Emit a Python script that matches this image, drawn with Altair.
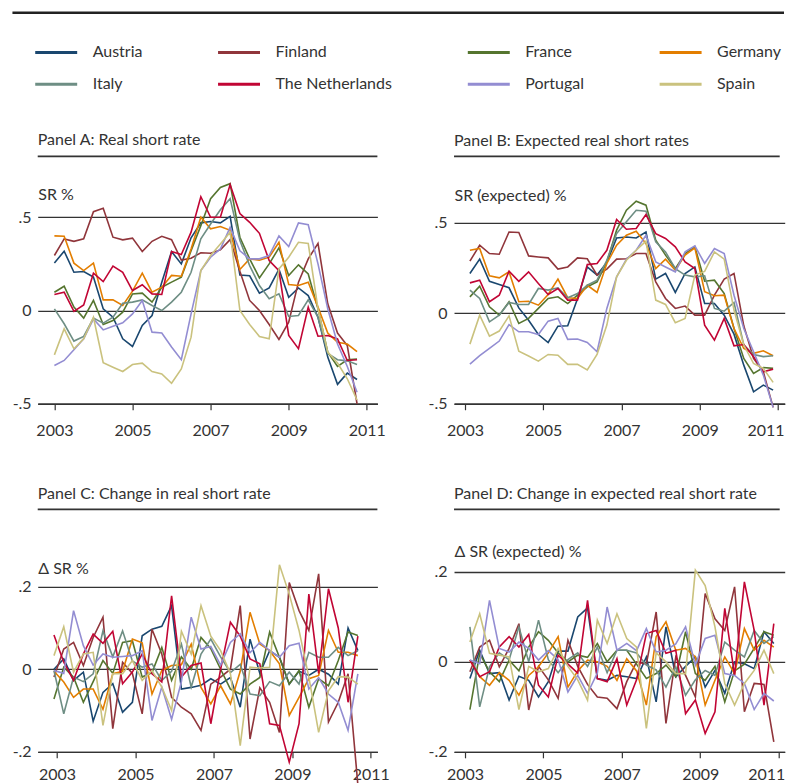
import altair as alt
import pandas as pd

COUNTRIES = ["Austria", "Finland", "France", "Germany", "Italy",
             "The Netherlands", "Portugal", "Spain"]
COLORS = ["#1a476f", "#90353b", "#55752f", "#e37e00", "#6e8e84",
          "#c10534", "#938dd2", "#cac27e"]
X_TICKS = [2003, 2005, 2007, 2009, 2011]

# ---- Panel A: real short rate (quarterly, first obs 2003.0) ----
A_START = 2003.0
A_AUSTRIA = [0.255, 0.318, 0.205, 0.209, 0.179, 0.009, -0.036, -0.152, -0.193, -0.080, -0.027, 0.152, 0.316, 0.25, 0.39, 0.47,
             0.477, 0.47, 0.505, 0.19, 0.186, 0.093, 0.121, 0.221, 0.071, 0.121, 0.08, -0.036, -0.25, -0.396, -0.336, -0.37]
A_FINLAND = [0.295, 0.384, 0.371, 0.384, 0.53, 0.548, 0.393, 0.379, 0.388, 0.316, 0.371, 0.398, 0.38, 0.27, 0.28, 0.31,
             0.307, 0.325, 0.38, 0.21, 0.054, 0.0, -0.075, -0.155, -0.063, 0.152, 0.277, 0.36, 0.036, -0.121, -0.188, -0.5]
A_FRANCE = [0.098, 0.13, 0.018, -0.041, 0.054, -0.075, -0.054, -0.009, 0.089, 0.093, 0.045, 0.125, 0.152, 0.179, 0.32, 0.455,
            0.6, 0.66, 0.68, 0.393, 0.277, 0.175, 0.25, 0.336, 0.188, 0.245, 0.196, 0.009, -0.223, -0.30, -0.264, -0.26]
A_GERMANY = [0.40, 0.398, 0.254, 0.214, 0.254, 0.057, 0.057, 0.027, 0.104, 0.20, 0.098, 0.125, 0.188, 0.184, 0.33, 0.5,
             0.438, 0.45, 0.43, 0.22, 0.277, 0.27, 0.286, 0.366, 0.139, 0.134, 0.152, 0.018, -0.121, -0.17, -0.18, -0.22]
A_ITALY = [0.009, -0.071, -0.164, -0.139, -0.041, -0.068, -0.036, 0.039, 0.045, 0.057, 0.027, 0.0, 0.045, 0.098, 0.205, 0.384,
           0.464, 0.54, 0.60, 0.375, 0.241, 0.134, 0.063, 0.089, -0.032, -0.027, 0.057, -0.036, -0.23, -0.264, -0.27, -0.29]
A_NETHERLANDS = [0.086, 0.098, -0.005, 0.03, 0.2, 0.155, 0.238, 0.205, 0.107, 0.138, 0.089, 0.086, 0.316, 0.30, 0.42, 0.61,
                 0.5, 0.5, 0.675, 0.52, 0.473, 0.414, 0.268, 0.214, -0.134, -0.205, 0.018, -0.138, -0.134, -0.152, -0.268, -0.264]
A_PORTUGAL = [-0.295, -0.268, -0.21, -0.152, -0.045, -0.104, -0.084, -0.066, -0.018, 0.054, -0.116, -0.121, -0.196, -0.264, -0.018, 0.214,
              0.286, 0.33, 0.446, 0.32, 0.277, 0.277, 0.295, 0.40, 0.343, 0.47, 0.46, 0.25, 0.009, -0.18, -0.30, -0.438]
A_SPAIN = [-0.238, -0.098, -0.205, -0.152, -0.036, -0.28, -0.304, -0.327, -0.29, -0.282, -0.327, -0.34, -0.39, -0.313, -0.143, 0.214,
           0.295, 0.357, 0.42, 0.0, -0.075, -0.139, -0.152, 0.223, 0.286, 0.366, 0.36, 0.009, -0.223, -0.282, -0.366, -0.48]

# ---- Panel B: expected real short rates (first obs 2003.125) ----
B_START = 2003.125
B_AUSTRIA = [0.219, 0.298, 0.176, 0.158, 0.14, 0.029, -0.039, -0.118, -0.162, -0.072, -0.07, 0.08, 0.255, 0.21, 0.28, 0.415,
             0.42, 0.415, 0.448, 0.188, 0.219, 0.114, 0.219, 0.255, 0.053, 0.053, -0.011, -0.116, -0.287, -0.434, -0.397, -0.425]
B_FINLAND = [0.287, 0.375, 0.329, 0.325, 0.448, 0.445, 0.316, 0.31, 0.305, 0.243, 0.255, 0.305, 0.30, 0.21, 0.243, 0.298,
             0.30, 0.329, 0.329, 0.173, 0.081, 0.026, 0.039, -0.011, -0.011, 0.099, 0.188, 0.219, -0.07, -0.25, -0.324, -0.52]
B_FRANCE = [0.09, 0.149, 0.035, -0.011, 0.063, -0.057, -0.029, 0.026, 0.081, 0.09, 0.053, 0.099, 0.145, 0.173, 0.283, 0.458,
            0.568, 0.618, 0.596, 0.403, 0.32, 0.246, 0.329, 0.366, 0.176, 0.182, 0.108, -0.085, -0.25, -0.333, -0.30, -0.305]
B_GERMANY = [0.347, 0.357, 0.206, 0.195, 0.228, 0.063, 0.066, 0.044, 0.103, 0.188, 0.085, 0.081, 0.154, 0.114, 0.274, 0.375,
             0.43, 0.452, 0.384, 0.246, 0.298, 0.237, 0.32, 0.36, 0.118, 0.096, 0.099, -0.085, -0.195, -0.222, -0.208, -0.235]
B_ITALY = [0.127, 0.081, -0.048, -0.011, 0.059, 0.048, 0.048, 0.136, 0.127, 0.14, 0.085, 0.108, 0.154, 0.182, 0.292, 0.439,
           0.504, 0.568, 0.563, 0.393, 0.338, 0.246, 0.21, 0.20, 0.206, 0.026, 0.011, 0.059, -0.176, -0.228, -0.24, -0.235]
B_NETHERLANDS = [0.167, 0.182, 0.063, 0.099, 0.232, 0.176, 0.228, 0.164, 0.103, 0.136, 0.072, 0.072, 0.268, 0.274, 0.347, 0.517,
                 0.463, 0.467, 0.544, 0.439, 0.412, 0.366, 0.283, 0.246, -0.066, -0.149, -0.029, -0.18, -0.173, -0.24, -0.324, -0.309]
B_PORTUGAL = [-0.281, -0.235, -0.195, -0.154, -0.063, -0.103, -0.103, -0.118, -0.044, -0.029, -0.145, -0.143, -0.162, -0.213, 0.026, 0.20,
              0.298, 0.347, 0.43, 0.283, 0.255, 0.228, 0.338, 0.371, 0.274, 0.357, 0.329, 0.099, -0.085, -0.213, -0.342, -0.52]
B_SPAIN = [-0.171, -0.011, -0.127, -0.099, -0.015, -0.21, -0.237, -0.265, -0.228, -0.232, -0.283, -0.283, -0.314, -0.228, -0.066, 0.20,
           0.292, 0.347, 0.397, 0.072, 0.048, -0.053, -0.029, 0.21, 0.23, 0.338, 0.298, 0.017, -0.176, -0.278, -0.305, -0.382]

# ---- Panel C: change in real short rate (first obs 2002.92) ----
C_START = 2002.92
C_AUSTRIA = [0.0, 0.025, -0.027, -0.007, -0.126, -0.056, -0.035, -0.104, -0.08, 0.081, 0.097, 0.104, 0.154, -0.048, -0.044, -0.039,
             -0.023, -0.036, -0.02, -0.092, 0.073, -0.01, 0.045, 0.029, -0.036, -0.005, -0.015, 0.0, -0.012, -0.036, 0.10, 0.045]
C_FINLAND = [-0.019, 0.049, 0.065, 0.009, 0.077, 0.126, -0.144, 0.017, -0.01, -0.108, 0.097, 0.037, -0.068, -0.092, -0.108, -0.148,
             -0.036, -0.019, 0.0, 0.154, -0.169, -0.045, -0.08, -0.153, 0.21, 0.142, 0.094, 0.231, -0.128, -0.08, -0.011, -0.28]
C_FRANCE = [-0.072, 0.005, -0.019, -0.08, -0.03, 0.021, -0.01, 0.065, 0.069, -0.019, -0.008, 0.053, -0.027, 0.03, 0.0, 0.077,
            0.05, 0.0, -0.048, -0.06, -0.036, -0.02, 0.09, 0.029, -0.036, -0.003, -0.092, -0.023, -0.04, 0.021, 0.09, 0.082]
C_GERMANY = [-0.005, -0.031, -0.068, -0.048, -0.048, -0.097, -0.011, -0.005, 0.073, 0.064, -0.06, -0.003, 0.009, 0.011, 0.061, -0.044,
             -0.084, -0.04, -0.084, -0.005, 0.138, 0.061, 0.045, 0.013, -0.112, -0.068, -0.023, -0.015, 0.094, 0.041, 0.041, 0.033]
C_ITALY = [-0.003, -0.108, -0.019, -0.03, -0.011, 0.093, 0.03, 0.093, 0.02, 0.005, 0.013, -0.027, -0.005, 0.061, -0.043, 0.037,
           0.073, 0.03, -0.008, 0.012, -0.06, -0.064, -0.03, -0.04, -0.007, -0.036, 0.041, 0.029, 0.029, 0.053, 0.033, 0.045]
C_NETHERLANDS = [0.083, 0.017, -0.027, 0.037, 0.085, 0.063, 0.092, -0.035, -0.007, 0.037, -0.011, -0.031, 0.178, -0.019, 0.009, 0.015,
                 -0.132, 0.0, 0.114, 0.08, 0.025, 0.013, -0.132, -0.136, -0.225, -0.132, 0.182, -0.01, 0.195, 0.10, -0.08, 0.08]
C_PORTUGAL = [-0.003, -0.01, 0.142, 0.057, 0.01, 0.037, 0.029, 0.031, 0.033, 0.045, -0.124, -0.043, -0.121, -0.03, 0.126, 0.049,
              0.055, 0.01, 0.065, 0.086, 0.04, 0.065, 0.045, 0.029, 0.057, 0.063, -0.048, -0.02, -0.06, -0.08, -0.148, -0.011]
C_SPAIN = [0.033, 0.103, -0.007, 0.037, 0.041, -0.136, -0.011, -0.011, 0.021, -0.027, -0.003, -0.043, -0.1, 0.092, 0.037, 0.154,
           0.08, 0.045, -0.011, -0.185, 0.005, 0.003, 0.005, 0.253, 0.182, 0.094, -0.019, -0.153, -0.052, -0.018, -0.019, -0.036]

# ---- Panel D: change in expected real short rate (first obs 2003.125) ----
D_START = 2003.125
D_AUSTRIA = [-0.037, 0.026, -0.026, -0.024, -0.085, -0.032, -0.041, -0.078, -0.044, 0.024, 0.024, 0.10, 0.12, -0.037, -0.041, -0.03,
             -0.033, -0.037, 0.011, -0.089, 0.078, -0.033, -0.01, 0.011, -0.056, -0.019, -0.07, 0.0, -0.004, -0.015, 0.067, 0.041]
D_FINLAND = [-0.022, 0.033, 0.048, -0.011, 0.03, 0.085, -0.107, -0.01, -0.04, -0.081, 0.048, -0.01, -0.05, -0.078, -0.081, -0.104,
             -0.044, 0.0, -0.005, 0.111, -0.137, 0.011, -0.03, -0.078, 0.152, 0.096, 0.07, 0.167, -0.111, -0.048, -0.05, -0.178]
D_FRANCE = [-0.106, 0.019, -0.022, -0.044, 0.004, -0.02, 0.033, 0.067, 0.048, 0.02, 0.0, 0.015, 0.01, 0.041, 0.0, 0.026,
            0.026, -0.005, -0.037, -0.026, -0.007, -0.033, 0.067, -0.026, -0.041, -0.01, -0.089, -0.02, -0.005, 0.03, 0.067, 0.059]
D_GERMANY = [0.004, -0.033, -0.052, -0.024, -0.041, -0.074, -0.03, -0.011, 0.02, 0.056, -0.056, -0.02, 0.004, 0.0, -0.01, -0.041,
             0.007, -0.02, -0.096, 0.056, 0.089, 0.026, 0.03, 0.011, -0.096, -0.041, 0.011, -0.026, 0.074, 0.026, 0.048, 0.033]
D_ITALY = [0.078, -0.1, -0.011, 0.02, 0.005, 0.078, 0.0, 0.093, 0.005, -0.024, 0.005, 0.02, -0.01, 0.033, -0.024, 0.026,
           0.026, 0.02, -0.007, -0.018, -0.056, -0.011, -0.074, -0.04, -0.019, -0.03, 0.044, 0.026, 0.011, 0.07, 0.041, 0.056]
D_NETHERLANDS = [0.004, -0.033, -0.022, 0.033, 0.056, 0.033, 0.061, -0.052, -0.078, 0.015, -0.005, -0.025, 0.137, -0.037, -0.044, 0.007,
                 -0.096, -0.04, 0.063, 0.07, 0.019, 0.026, -0.115, -0.085, -0.159, -0.111, 0.119, -0.03, 0.178, 0.07, -0.096, 0.085]
D_PORTUGAL = [0.004, -0.004, 0.137, 0.03, 0.022, 0.044, 0.03, 0.004, 0.025, 0.005, -0.067, -0.03, -0.07, -0.025, 0.122, 0.026,
              0.041, 0.025, 0.074, 0.022, 0.026, 0.04, 0.078, -0.007, 0.052, 0.059, -0.026, -0.03, -0.048, -0.106, -0.07, -0.087]
D_SPAIN = [0.044, 0.107, 0.019, 0.015, 0.011, -0.106, -0.01, -0.022, -0.015, 0.03, -0.01, -0.04, -0.085, 0.093, 0.041, 0.107,
           0.052, 0.033, -0.148, 0.02, 0.0, -0.026, -0.026, 0.204, 0.17, 0.078, -0.048, -0.096, -0.048, -0.019, 0.026, -0.026]

FONT = "Lato"
TXT = "#333333"
LABEL_EXPR = ("datum.value == 0 ? '0' : (datum.value < 0 ? '-' : '') + "
              "replace(format(abs(datum.value), '.1f'), '0.', '.')")


def long_df(start, series):
    rows = []
    for name, vals in zip(COUNTRIES, series):
        for i, v in enumerate(vals):
            rows.append({"date": start + 0.25 * i, "country": name, "value": v})
    return pd.DataFrame(rows)


def panel(df, title, ytitle, ytitle_y, xdom, ydom, yticks, width, height,
          rule_y, rule_w, label_pad, extra=None, title_dy=0, flush=False, xlab_pad=13):
    color = alt.Color("country:N", sort=COUNTRIES,
                      scale=alt.Scale(domain=COUNTRIES, range=COLORS),
                      legend=alt.Legend(title=None))
    x_axis_opts = dict(title=None, values=X_TICKS, format="d", grid=False,
                       domain=True, domainColor=TXT, domainWidth=1.3,
                       ticks=True, tickSize=6, tickColor=TXT, tickWidth=1.2,
                       labelPadding=xlab_pad, labelFont=FONT, labelFontSize=16,
                       labelColor=TXT)
    if flush:
        x_axis_opts.update(labelFlush=10, labelFlushOffset=6)
    else:
        x_axis_opts.update(labelFlush=False)
    lines = alt.Chart(df).mark_line(strokeWidth=1.6).encode(
        x=alt.X("date:Q", scale=alt.Scale(domain=xdom, nice=False, zero=False),
                axis=alt.Axis(**x_axis_opts)),
        y=alt.Y("value:Q", scale=alt.Scale(domain=ydom, nice=False, zero=False),
                axis=alt.Axis(title=ytitle, titleAngle=0, titleAlign="left",
                              titleBaseline="middle", titleX=0, titleY=ytitle_y,
                              titleFont=FONT, titleFontSize=16, titleFontWeight="normal",
                              titleColor=TXT, values=yticks, labelExpr=LABEL_EXPR,
                              grid=True, gridColor=TXT, gridWidth=1.3, gridOpacity=1,
                              domain=False, ticks=False, tickSize=0,
                              labelPadding=label_pad, labelFont=FONT, labelFontSize=16,
                              labelColor=TXT)),
        color=color,
    )
    one = pd.DataFrame({"k": [0]})
    underline = alt.Chart(one).mark_rule(color=TXT, strokeWidth=1.6).encode(
        x=alt.value(0), x2=alt.value(rule_w), y=alt.value(rule_y))
    layers = [lines, underline] + (extra or [])
    return alt.layer(*layers).properties(
        width=width, height=height,
        title=alt.TitleParams(text=title, anchor="start", frame="group", offset=7,
                              dy=title_dy, font=FONT, fontSize=16,
                              fontWeight="normal", color=TXT))


dfA = long_df(A_START, [A_AUSTRIA, A_FINLAND, A_FRANCE, A_GERMANY, A_ITALY, A_NETHERLANDS, A_PORTUGAL, A_SPAIN])
dfB = long_df(B_START, [B_AUSTRIA, B_FINLAND, B_FRANCE, B_GERMANY, B_ITALY, B_NETHERLANDS, B_PORTUGAL, B_SPAIN])
dfC = long_df(C_START, [C_AUSTRIA, C_FINLAND, C_FRANCE, C_GERMANY, C_ITALY, C_NETHERLANDS, C_PORTUGAL, C_SPAIN])
dfD = long_df(D_START, [D_AUSTRIA, D_FINLAND, D_FRANCE, D_GERMANY, D_ITALY, D_NETHERLANDS, D_PORTUGAL, D_SPAIN])

# heavy rule across the top of the figure
top_rule = alt.Chart(pd.DataFrame({"k": [0]})).mark_rule(color="#222222", strokeWidth=2.5).encode(
    x=alt.value(-25.3), x2=alt.value(747), y=alt.value(-167.3))

pA = panel(dfA, "Panel A: Real short rate", "SR %", 14.7,
           [2002.573, 2011.271], [-0.5, 0.70], [-0.5, 0, 0.5], 340, 224,
           -23.6, 340, 6.6, extra=[top_rule], title_dy=143.75)
pB = panel(dfB, "Panel B: Expected real short rates", "SR (expected) %", 15.7,
           [2002.719, 2011.171], [-0.5, 0.735], [-0.5, 0, 0.5], 331, 224,
           -23.6, 326, 7, flush=True)
pC = panel(dfC, "Panel C: Change in real short rate", "Δ SR %", 16.3,
           [2002.506, 2011.168], [-0.2, 0.284], [-0.2, 0, 0.2], 340, 200,
           -42.7, 340, 6.6, xlab_pad=9)
pD = panel(dfD, "Panel D: Change in expected real short rate", "Δ SR (expected) %", 0,
           [2002.720, 2011.153], [-0.2, 0.2444], [-0.2, 0, 0.2], 331, 200,
           -42.7, 326, 7, flush=True, xlab_pad=9)

chart = alt.concat(pA, pB, pC, pD, columns=2, bounds="flush",
                   spacing={"row": 148.4, "column": 76.7}).properties(
    padding={"left": 2.75, "top": 2.75, "right": 0, "bottom": 0}
).configure(font=FONT).configure_view(strokeWidth=0).configure_legend(
    orient="none", legendX=-4, legendY=-150.4, direction="horizontal",
    columns=4, symbolType="stroke", symbolSize=1764, symbolStrokeWidth=3,
    labelFont=FONT, labelFontSize=16, labelColor=TXT, labelOffset=14,
    columnPadding=69, rowPadding=1, gridAlign="each", padding=0)

chart.save("out.html", embed_options={"renderer": "svg", "actions": False})
